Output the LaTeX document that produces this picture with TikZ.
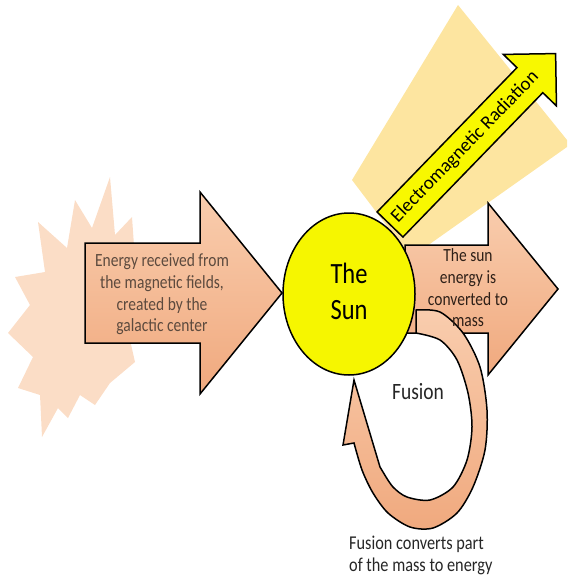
\documentclass[tikz,border=0pt]{standalone}
\usepackage{fontspec}
\setmainfont{Carlito}
\usepackage{graphicx}
\usetikzlibrary{shapes.geometric}
\definecolor{peachL}{HTML}{F9CDAE}
\definecolor{peachD}{HTML}{F0A97E}
\definecolor{burst}{HTML}{FBDDC6}
\definecolor{halo}{HTML}{FDE5A0}
\definecolor{sunY}{HTML}{F6F600}
\definecolor{emY}{HTML}{F8F800}
\definecolor{txtA}{HTML}{5C4A3E}
\definecolor{txtB}{HTML}{2E2018}
\newcommand{\vtext}[3]{{\fontsize{#1}{#2}\selectfont\scalebox{1}[1.2]{\begin{tabular}{@{}c@{}}#3\end{tabular}}}}
\newcommand{\vtextl}[3]{{\fontsize{#1}{#2}\selectfont\scalebox{1}[1.2]{\begin{tabular}{@{}l@{}}#3\end{tabular}}}}
\begin{document}
\begin{tikzpicture}[x=1pt,y=-1pt,
  blockarrow/.style={draw=black, line width=1.5pt, line join=miter, top color=peachL, bottom color=peachD},
  emarrow/.style={draw=black, line width=1.5pt, line join=miter, fill=emY},
  label/.style={inner sep=0pt}]
\useasboundingbox (0,0) rectangle (567,580);
% halo behind radiation arrow
\fill[halo] (458,5) -- (352,180) -- (410.7,257.5) -- (567,147) -- (567,140) -- cycle;
% starburst
\fill[burst] (110,177) -- (92,228) -- (75,200) -- (67,248) -- (38,222) -- (45,272) -- (15,277) -- (30,305) -- (8,333) -- (33,357) -- (18,388) -- (40,395) -- (42,437) -- (58,408) -- (68,418) -- (80,395) -- (95,405) -- (110,383) -- (135,362) -- (130,340) -- (140,300) -- (135,260) -- (132,217) -- (115,235) -- cycle;
% incoming arrow
\path[blockarrow] (85,243) -- (200,243) -- (200,192) -- (282,293) -- (200,394) -- (200,343) -- (85,343) -- cycle;
% outgoing arrow
\path[blockarrow] (405,245) -- (488,245) -- (488,203) -- (558,289) -- (488,375) -- (488,333) -- (405,333) -- cycle;
% fusion loop
\path[blockarrow] plot[smooth] coordinates {(416,310) (440,312) (463,333) (480,367) (487,410) (485,450) (473,487) (457,513) (433,528) (410,527) (388,513) (373,493) (362,470) (354,443)} -- (343,445) -- (354,380) -- (380,467) -- plot[smooth] coordinates {(383,472) (393,487) (407,497) (430,500) (453,487) (467,460) (472,427) (468,393) (457,360) (440,340) (416,333)} -- cycle;
% sun
\node[ellipse, draw=black, line width=1.5pt, fill=sunY, minimum width=132pt, minimum height=162pt, inner sep=0pt] (sun) at (349,294) {\vtext{24.5}{30}{The\\Sun}};
% radiation arrow
\begin{scope}[shift={(390,224.5)}, rotate=45.9]
\path[emarrow] (0,-18) -- (201,-18) -- (201,-37) -- (238,0) -- (201,37) -- (201,18) -- (0,18) -- cycle;
\node[label, transform shape] (emtxt) at (108,0) {\fontsize{19}{22}\selectfont Electromagnetic Radiation};
\end{scope}
% texts
\node[label, text=txtA] (intxt) at (162,295) {\vtext{15.5}{18}{Energy received from\\the magnetic fields,\\created by the\\galactic center}};
\node[label, text=txtB] (outtxt) at (468,290) {\vtext{15.5}{18}{The sun\\energy is\\converted to\\mass}};
\node[label, text=black!85] (fusion) at (418,394) {\vtext{19.5}{22}{Fusion}};
\node[label, anchor=west, text=black!85] (note) at (349,556) {\vtextl{16.3}{18.3}{Fusion converts part\\of the mass to energy}};
\end{tikzpicture}
\end{document}
